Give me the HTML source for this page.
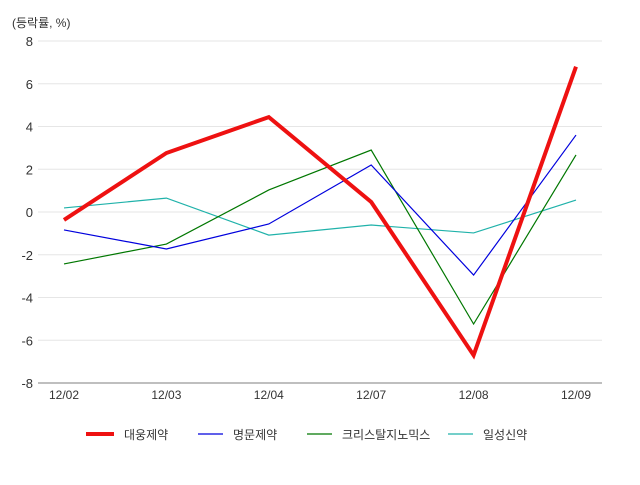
<!DOCTYPE html>
<html><head><meta charset="utf-8"><style>
body{margin:0;background:#fff;font-family:"Liberation Sans","Noto Sans CJK KR",sans-serif;}
svg text{font-family:"Liberation Sans","Noto Sans CJK KR",sans-serif;}
</style></head><body>
<svg id="c" width="640" height="480"></svg>
<script>
const categories=["12/02","12/03","12/04","12/07","12/08","12/09"];
const seriesNames=["대웅제약","명문제약","크리스탈지노믹스","일성신약"];
const daewoong=[-0.37,2.76,4.44,0.47,-6.7,6.8];
const myungmoon=[-0.84,-1.73,-0.56,2.2,-2.95,3.6];
const crystal=[-2.43,-1.5,1.03,2.9,-5.24,2.67];
const ilsung=[0.19,0.65,-1.08,-0.61,-0.98,0.56];
const yTicks=[8,6,4,2,0,-2,-4,-6,-8];
const colors=["#ee1111","#0000dd","#007700","#20b2aa"];
const widths=[4,1.2,1.2,1.2];
const allSeries=[daewoong,myungmoon,crystal,ilsung];
const NS="http://www.w3.org/2000/svg";
const svg=document.getElementById('c');
const L=38,R=602,T=41,B=383;
const x=i=>64+i*(576-64)/(categories.length-1);
const y=v=>T+(8-v)*(B-T)/16;
function mk(t,a,p){const e=document.createElementNS(NS,t);for(const k in a)e.setAttribute(k,a[k]);(p||svg).appendChild(e);return e;}
const title=mk('text',{x:12,y:27,'font-size':12,fill:'#333'});title.textContent='(등락률, %)';


yTicks.forEach(v=>{
  if(v!==-8){const g=mk('line',{x1:L,x2:R,y1:y(v),y2:y(v),stroke:'#e6e6e6','stroke-width':1});
  
  }
  const t=mk('text',{x:33,y:y(v)+5,'font-size':13,fill:'#333','text-anchor':'end'});t.textContent=v;
  
  
});
const ax=mk('line',{x1:L,x2:R,y1:B,y2:B,stroke:'#aaa','stroke-width':1.5});


categories.forEach((c,i)=>{
  const t=mk('text',{x:x(i),y:399,'font-size':12,fill:'#333','text-anchor':'middle'});t.textContent=c;
  
  
});
[3,2,1,0].forEach(s=>{
  const p=mk('polyline',{points:allSeries[s].map((v,i)=>x(i)+','+y(v)).join(' '),fill:'none',stroke:colors[s],'stroke-width':widths[s],'stroke-linejoin':'miter'});
  
  
});
const lx=[86,198,307,448];
seriesNames.forEach((n,s)=>{
  const g=mk('g',{});
  
  
  mk('line',{x1:lx[s],x2:lx[s]+(s===0?28:25),y1:434,y2:434,stroke:colors[s],'stroke-width':widths[s]},g);
  const t=mk('text',{x:lx[s]+(s===0?38:35),y:439,'font-size':12,fill:'#333'},g);t.textContent=n;
});
</script>
</body></html>
